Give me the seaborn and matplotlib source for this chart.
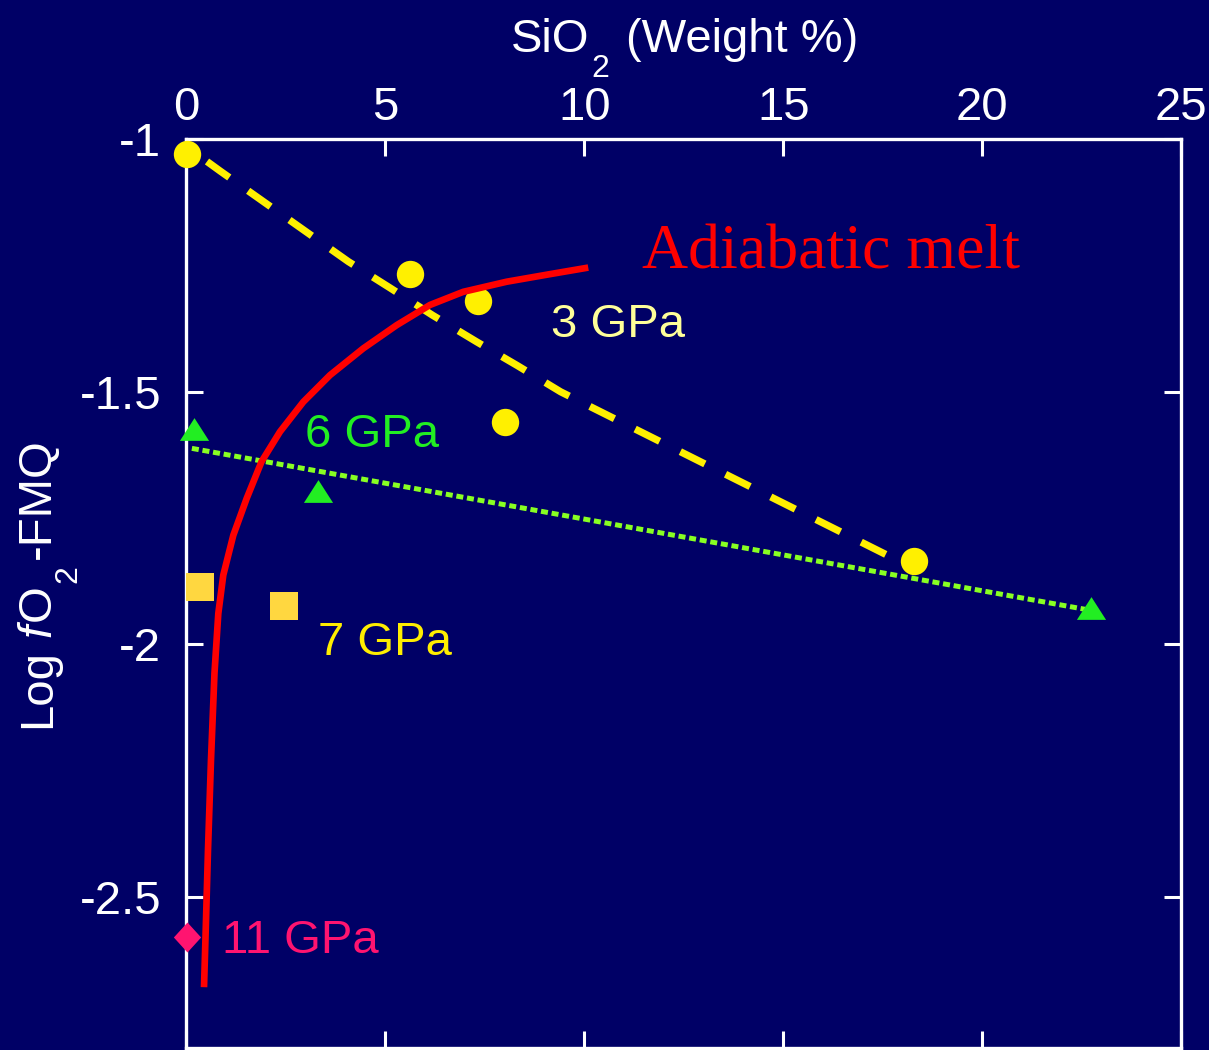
import matplotlib
matplotlib.use("Agg")
import matplotlib.pyplot as plt
import seaborn as sns
from matplotlib.ticker import FixedLocator, FuncFormatter

# ---- data -------------------------------------------------------------
# 3 GPa experiments (SiO2 wt%, log fO2 relative to FMQ)
gpa3_sio2 = [0.01, 5.61, 7.32, 8.01, 18.27]
gpa3_logfo2 = [-1.030, -1.266, -1.321, -1.559, -1.836]
# 3 GPa trend line
trend3_sio2 = [0.05, 0.854, 4.069, 5.134, 6.179, 7.295, 8.315, 9.405, 17.75, 18.2]
trend3_logfo2 = [-1.017, -1.063, -1.242, -1.295, -1.348, -1.401, -1.448, -1.500,
                 -1.829, -1.835]

# 6 GPa experiments and trend
gpa6_sio2 = [0.20, 3.32, 22.73]
gpa6_logfo2 = [-1.574, -1.697, -1.929]
trend6_sio2 = [0.14, 22.6]
trend6_logfo2 = [-1.612, -1.931]

# 7 GPa experiments
gpa7_sio2 = [0.34, 2.46]
gpa7_logfo2 = [-1.886, -1.925]

# 11 GPa experiment
gpa11_sio2 = [0.02]
gpa11_logfo2 = [-2.579]

# adiabatic melt path
melt_sio2 = [0.445, 0.495, 0.545, 0.620, 0.708, 0.804, 0.929, 1.181, 1.517, 1.892,
             2.354, 2.939, 3.610, 4.446, 5.285, 6.122, 6.958, 8.048, 9.136, 10.098]
melt_logfo2 = [-2.679, -2.546, -2.407, -2.229, -2.057, -1.939, -1.863, -1.784, -1.711,
               -1.638, -1.579, -1.520, -1.467, -1.414, -1.368, -1.328, -1.302, -1.282,
               -1.267, -1.254]

x_ticks = [0, 5, 10, 15, 20, 25]
y_ticks = [-1, -1.5, -2, -2.5]

# ---- style ------------------------------------------------------------
BG = "#000066"
sns.set_theme(style="ticks", rc={
    "axes.facecolor": BG,
    "figure.facecolor": BG,
    "savefig.facecolor": BG,
    "axes.edgecolor": "white",
    "axes.linewidth": 2.4,
    "xtick.color": "white",
    "ytick.color": "white",
    "text.color": "white",
    "axes.labelcolor": "white",
    "axes.grid": False,
})
plt.rcParams["font.family"] = ["Liberation Sans", "DejaVu Sans"]
plt.rcParams["axes.unicode_minus"] = False

fig = plt.figure(figsize=(12.09, 10.5), dpi=100)
ax = fig.add_axes([0.1541, 0.00162, 0.8231, 0.8657])

# ---- lines ------------------------------------------------------------
sns.lineplot(x=trend3_sio2, y=trend3_logfo2, sort=False, estimator=None, ax=ax,
             color="#fff000", linewidth=5.2, linestyle=(3.8, (3.8, 3.2)),
             dash_capstyle="butt", zorder=3)
sns.lineplot(x=trend6_sio2, y=trend6_logfo2, sort=False, estimator=None, ax=ax,
             color="#88ff22", linewidth=3.6, linestyle=(0, (1.4, 0.75)),
             dash_capstyle="butt", zorder=5)
sns.lineplot(x=melt_sio2, y=melt_logfo2, sort=False, estimator=None, ax=ax,
             color="#ff0000", linewidth=4.8, solid_capstyle="butt",
             solid_joinstyle="round", zorder=6)

# ---- markers ----------------------------------------------------------
tri = [(-1, -0.78), (1, -0.78), (0, 0.78)]
diamond = [(0, 1), (0.91, 0), (0, -1), (-0.91, 0)]

sns.scatterplot(x=gpa3_sio2, y=gpa3_logfo2, ax=ax, marker="o", s=19.7 ** 2,
                color="#fff000", linewidth=0, clip_on=False, zorder=4, legend=False)
sns.scatterplot(x=gpa6_sio2, y=gpa6_logfo2, ax=ax, marker=tri, s=21 ** 2,
                color="#22ee22", linewidth=0, clip_on=False, zorder=7, legend=False)
sns.scatterplot(x=gpa7_sio2, y=gpa7_logfo2, ax=ax, marker="s", s=20.4 ** 2,
                color="#ffd740", linewidth=0, clip_on=False, zorder=7, legend=False)
sns.scatterplot(x=gpa11_sio2, y=gpa11_logfo2, ax=ax, marker=diamond, s=21.6 ** 2,
                color="#ff1470", linewidth=0, clip_on=False, zorder=7, legend=False)

# ---- series labels ----------------------------------------------------
ax.text(11.44, -1.2554, "Adiabatic melt", color="#ff0000", fontsize=46,
        family=["Liberation Serif", "DejaVu Serif"], ha="left", va="baseline", zorder=8)
ax.text(9.15, -1.391, "3 GPa", color="#ffff99", fontsize=34, ha="left", va="baseline")
ax.text(2.97, -1.6087, "6 GPa", color="#22ee22", fontsize=34, ha="left", va="baseline")
ax.text(3.31, -2.0212, "7 GPa", color="#ffee00", fontsize=34, ha="left", va="baseline")
ax.text(0.89, -2.6119, "11 GPa", color="#ff1470", fontsize=34, ha="left", va="baseline")

# ---- axes -------------------------------------------------------------
ax.set_xlim(0, 25)
ax.set_ylim(-2.8, -1)
ax.xaxis.set_major_locator(FixedLocator(x_ticks))
ax.yaxis.set_major_locator(FixedLocator(y_ticks))
fmt = FuncFormatter(lambda v, _: f"{v:g}")
ax.xaxis.set_major_formatter(fmt)
ax.yaxis.set_major_formatter(fmt)
ax.tick_params(direction="in", length=12, width=2.2, colors="white", labelsize=34,
               top=True, bottom=True, left=True, right=True,
               labeltop=True, labelbottom=False, labelleft=True, labelright=False)
ax.tick_params(axis="x", pad=7)
ax.tick_params(axis="y", pad=18)
for lbl in ax.get_yticklabels():
    lbl.set_verticalalignment("center_baseline")
for sp in ax.spines.values():
    sp.set_color("white")
    sp.set_linewidth(2.4)
ax.set_xlabel("")
ax.set_ylabel("")

# x-axis title along the top: SiO2 (Weight %)
H = 1050
a1 = ax.annotate("SiO", xy=(511, H - 52), xycoords="figure pixels", ha="left",
                 va="baseline", fontsize=34, color="white", annotation_clip=False)
a2 = ax.annotate("2", xy=(1, H - 77), xycoords=(a1, "figure pixels"),
                 xytext=(1.5, 0), textcoords="offset points", ha="left",
                 va="baseline", fontsize=23, color="white")
ax.annotate("(Weight %)", xy=(1, H - 52), xycoords=(a2, "figure pixels"),
            xytext=(12, 0), textcoords="offset points", ha="left",
            va="baseline", fontsize=34, color="white")

# y-axis title: Log fO2-FMQ (rotated)
rot = dict(rotation=90, rotation_mode="anchor", ha="left", va="baseline", color="white")
b1 = ax.annotate("Log", xy=(50, H - 728), xycoords="figure pixels", fontsize=34,
                 annotation_clip=False, **rot)
b2 = ax.annotate("f", xy=(50, 1), xycoords=("figure pixels", b1), xytext=(0, 9),
                 textcoords="offset points", fontsize=34, fontstyle="italic", **rot)
b3 = ax.annotate("O", xy=(50, 1), xycoords=("figure pixels", b2), xytext=(0, 1.5),
                 textcoords="offset points", fontsize=34, **rot)
b4 = ax.annotate("2", xy=(76, 1), xycoords=("figure pixels", b3), xytext=(0, 1.5),
                 textcoords="offset points", fontsize=23, **rot)
ax.annotate("-FMQ", xy=(50, 1), xycoords=("figure pixels", b4), xytext=(0, 4),
            textcoords="offset points", fontsize=34, **rot)

fig.savefig("out.png", dpi=100, facecolor=BG)
